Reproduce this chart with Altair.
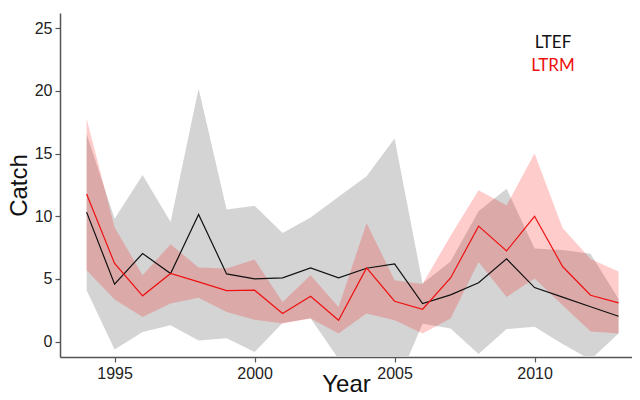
import altair as alt
import pandas as pd

years = list(range(1994, 2014))

ltef_mean = [10.33, 4.58, 7.03, 5.43, 10.14, 5.40, 5.00, 5.08, 5.88, 5.08,
             5.85, 6.20, 3.03, 3.73, 4.69, 6.60, 4.31, 3.55, 2.78, 2.02]
ltef_hi = [16.56, 9.80, 13.30, 9.55, 20.20, 10.54, 10.83, 8.67, 9.90, 11.55,
           13.20, 16.20, 4.63, 6.40, 10.40, 12.20, 7.43, 7.30, 7.00, 3.40]
ltef_lo = [4.10, -0.64, 0.76, 1.31, 0.08, 0.26, -0.83, 1.49, 1.86, -1.39,
           -1.50, -3.80, 1.43, 1.05, -1.00, 1.00, 1.19, -0.20, -1.44, 0.64]

ltrm_mean = [11.77, 6.23, 3.65, 5.43, 4.77, 4.07, 4.10, 2.24, 3.62, 1.70,
             5.88, 3.22, 2.58, 5.08, 9.21, 7.24, 10.00, 5.99, 3.70, 3.09]
ltrm_hi = [17.80, 9.13, 5.30, 7.77, 5.91, 5.83, 6.55, 3.16, 5.30, 2.76,
           9.47, 4.90, 4.60, 8.44, 12.08, 10.87, 15.00, 9.06, 6.60, 5.60]
ltrm_lo = [5.70, 3.35, 1.97, 3.03, 3.50, 2.37, 1.74, 1.44, 1.84, 0.64,
           2.24, 1.70, 0.64, 1.84, 6.36, 3.56, 5.03, 2.90, 0.80, 0.65]

ltef_color = "#111111"
ltrm_color = "#ee1111"

ltef = pd.DataFrame({"Year": years, "mean": ltef_mean, "lo": ltef_lo, "hi": ltef_hi})
ltrm = pd.DataFrame({"Year": years, "mean": ltrm_mean, "lo": ltrm_lo, "hi": ltrm_hi})

xs = alt.Scale(domain=[1993.05, 2013.48], nice=False, zero=False)
ys = alt.Scale(domain=[-1.23, 26.22], nice=False, zero=False)

xax = alt.Axis(values=[1995, 2000, 2005, 2010], format="d", title="Year",
               titleY=34, titleBaseline="alphabetic")
yax = alt.Axis(values=[0, 5, 10, 15, 20, 25], title="Catch",
               titleX=-41, titleY=172, titleAngle=270, titleAlign="center",
               titleBaseline="middle")

def band(df, color, opacity):
    return alt.Chart(df).mark_area(color=color, opacity=opacity, clip=True).encode(
        x=alt.X("Year:Q", scale=xs, axis=xax),
        y=alt.Y("lo:Q", scale=ys, axis=yax),
        y2="hi:Q",
    )

def line(df, color):
    return alt.Chart(df).mark_line(color=color, strokeWidth=1.2, clip=True).encode(
        x=alt.X("Year:Q", scale=xs, axis=xax),
        y=alt.Y("mean:Q", scale=ys, axis=yax),
    )

def label(text, color, ypix):
    return alt.Chart(pd.DataFrame({"label": [text]})).mark_text(
        font="Lato", fontSize=17, align="center", baseline="middle", color=color
    ).encode(x=alt.value(493), y=alt.value(ypix), text="label:N")

chart = alt.layer(
    band(ltef, "#d4d4d4", 1.0),
    band(ltrm, "#ff0000", 0.2),
    line(ltef, ltef_color),
    line(ltrm, ltrm_color),
    label("LTEF", ltef_color, 30),
    label("LTRM", ltrm_color, 53),
).properties(
    width=572, height=344,
    autosize=alt.AutoSizeParams(type="none"),
    padding={"left": 52, "top": 5, "right": 0, "bottom": 35},
).configure_view(stroke=None).configure_axis(
    grid=False,
    domainColor="#555555", domainWidth=1.5,
    tickColor="#555555", tickSize=5, tickWidth=1.2,
    labelFont="Liberation Sans", labelFontSize=16, labelColor="#222222",
    labelPadding=3,
    titleFont="Liberation Sans", titleFontSize=24, titleFontWeight="normal",
    titleColor="#111111",
)

chart.save("out.html", embed_options={"renderer": "svg", "actions": False})
